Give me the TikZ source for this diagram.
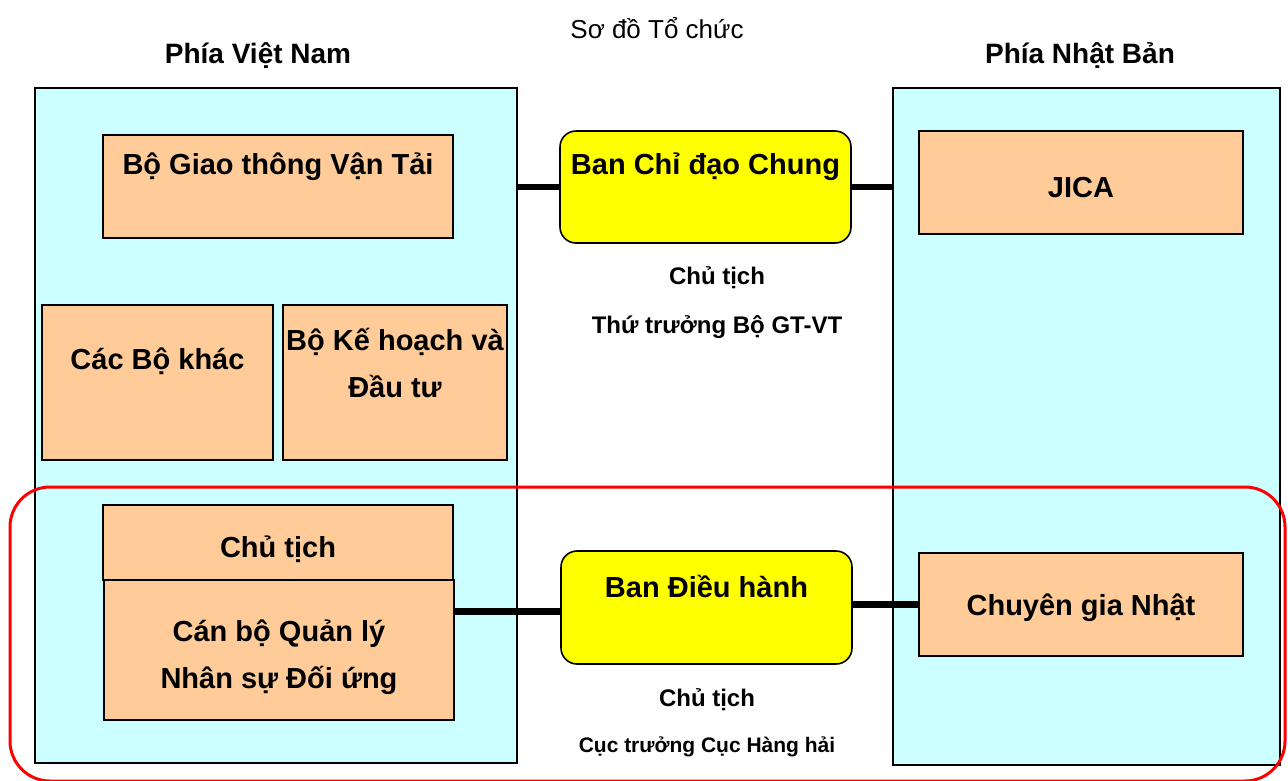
\documentclass[tikz,border=0pt]{standalone}
\usepackage{fontspec}
\setmainfont{Liberation Sans}
\definecolor{sidecyan}{HTML}{CCFFFF}
\definecolor{orgpeach}{HTML}{FFCC99}
\definecolor{boardyellow}{HTML}{FFFF00}
\begin{document}
\begin{tikzpicture}[x=1pt,y=-1pt,inner sep=0pt,outer sep=0pt,very thick,
sideblock/.style={draw,rectangle,fill=sidecyan,line width=1.6pt},
orgblock/.style={draw,rectangle,fill=orgpeach,line width=1.6pt},
boardblock/.style={draw,rectangle,rounded corners=16pt,fill=boardyellow,line width=1.6pt},
boxlabel/.style={align=center,font=\fontsize{29}{47}\selectfont\bfseries},
note/.style={font=\fontsize{24}{28}\selectfont\bfseries},
link/.style={line width=6.5pt}]
\useasboundingbox (0,0) rectangle (1288,780);
% headings
\draw (657,28) node[font=\fontsize{26}{30}\selectfont] (title) {Sơ đồ Tổ chức};
\draw (258,56) node[font=\fontsize{28}{32}\selectfont\bfseries] (vnhead) {Phía Việt Nam};
\draw (1080,56) node[font=\fontsize{28}{32}\selectfont\bfseries] (jphead) {Phía Nhật Bản};
% the two sides
\draw (276,425.5) node[sideblock,minimum width=482pt,minimum height=675pt] (vn) {};
\draw (1086.5,426.5) node[sideblock,minimum width=387pt,minimum height=677pt] (jp) {};
\draw (278,186.5) node[orgblock,minimum width=350pt,minimum height=103pt] (bgtvt) {};
\draw (278,167) node[boxlabel] {Bộ Giao thông Vận Tải};
\draw (157.5,382.5) node[orgblock,minimum width=231pt,minimum height=155pt] (cacbo) {};
\draw (157.5,361) node[boxlabel] {Các Bộ khác};
\draw (395,382.5) node[orgblock,minimum width=224pt,minimum height=155pt] (bkhdt) {};
\draw (395,363) node[boxlabel] {Bộ Kế hoạch và\\Đầu tư};
\draw (279,650) node[orgblock,minimum width=350pt,minimum height=140pt] (canbo) {};
\draw (279,657) node[boxlabel] {Cán bộ Quản lý\\Nhân sự Đối ứng};
\draw (278,542.5) node[orgblock,minimum width=350pt,minimum height=75pt] (chutich) {};
\draw (278,549.5) node[boxlabel] {Chủ tịch};
\draw (1081,182.5) node[orgblock,minimum width=324pt,minimum height=103pt] (jica) {};
\draw (1081,187.5) node[boxlabel] {JICA};
\draw (1081,604.5) node[orgblock,minimum width=324pt,minimum height=103pt] (cgn) {};
\draw (1081,608) node[boxlabel] {Chuyên gia Nhật};
% boards
\draw (705.5,187) node[boardblock,minimum width=291pt,minimum height=112pt] (bcdc) {};
\draw (705.5,167) node[boxlabel] {Ban Chỉ đạo Chung};
\draw (706.5,607.5) node[boardblock,minimum width=291pt,minimum height=113pt] (bdh) {};
\draw (706.5,586) node[boxlabel] {Ban Điều hành};
\draw (717,278) node[note] {Chủ tịch};
\draw (717,327) node[note] {Thứ trưởng Bộ GT-VT};
\draw (707,700) node[note] {Chủ tịch};
\draw (707,747) node[font=\fontsize{21}{26}\selectfont\bfseries] {Cục trưởng Cục Hàng hải};
% links
\draw[link] (bcdc.west) -- (bcdc.west -| vn.east);
\draw[link] (bcdc.east) -- (bcdc.east -| jp.west);
\draw[link] ([yshift=-4pt]bdh.west) -- ([yshift=-4pt]bdh.west -| canbo.east);
\draw[link] ([yshift=3pt]bdh.east) -- ([yshift=3pt]bdh.east -| cgn.west);
\draw[red,line width=3pt,rounded corners=40pt] (10,487) rectangle (1285,781);
\end{tikzpicture}
\end{document}
